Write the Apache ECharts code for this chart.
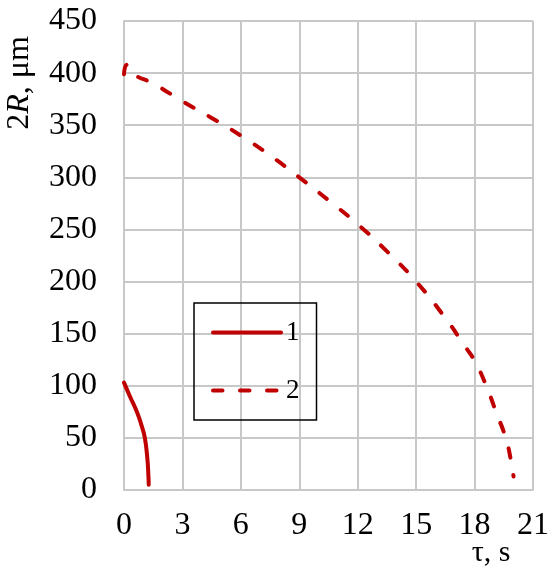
<!DOCTYPE html>
<html>
<head>
<meta charset="utf-8">
<script src="https://cdn.jsdelivr.net/npm/echarts@6/dist/echarts.min.js"></script>
<style>
  html, body { margin: 0; padding: 0; background: #fff; }
  #chart { width: 552px; height: 571px; }
</style>
</head>
<body>
<div id="chart"></div>
<script>
// curve 1 (solid) : [tau, 2R]
var curve1 = [[0, 103], [0.3, 90], [0.66, 75], [0.9, 62], [1.07, 50], [1.2, 30], [1.25, 15], [1.27, 5]];
// curve 2 (dashed)
var curve2 = [[0, 399], [0.15, 408], [0.5, 399], [1.5, 390], [3, 373], [4.5, 357], [6, 340], [7.5, 321],
  [9, 300], [10.5, 278], [12, 255], [13.5, 229], [15, 200], [16.5, 165], [17.5, 138], [18, 124],
  [18.6, 100], [19.1, 75], [19.6, 50], [19.85, 30], [20, 13]];
var seriesNames = ['1', '2'];

var chart = echarts.init(document.getElementById('chart'));
var font = 'Liberation Serif';
var gridColor = '#c8c8c8';

var option = {
  animation: false,
  backgroundColor: '#fff',
  grid: { left: 124, right: 15, top: 21, bottom: 81 },
  xAxis: {
    type: 'value', min: 0, max: 21, interval: 3,
    axisLine: { lineStyle: { color: gridColor, width: 2 } },
    axisTick: { show: false },
    splitLine: { lineStyle: { color: gridColor, width: 2 } },
    axisLabel: { color: '#000', fontFamily: font, fontSize: 32, margin: 20 }
  },
  yAxis: {
    type: 'value', min: 0, max: 450, interval: 50,
    axisLine: { show: true, lineStyle: { color: gridColor, width: 2 } },
    axisTick: { show: false },
    splitLine: { lineStyle: { color: gridColor, width: 2 } },
    axisLabel: { color: '#000', fontFamily: font, fontSize: 32, margin: 27 }
  },
  legend: {
    left: 194, top: 303, orient: 'vertical',
    padding: [16, 17, 16, 17],
    borderColor: '#000', borderWidth: 1.5,
    itemWidth: 68, itemHeight: 14, itemGap: 31,
    itemStyle: { opacity: 0 },
    lineStyle: { width: 4, cap: 'round' },
    textStyle: { fontFamily: font, fontSize: 27, color: '#000', lineHeight: 26 },
    data: seriesNames
  },
  graphic: [
    {
      type: 'text', x: 20, y: 83, rotation: Math.PI / 2,
      style: {
        text: '{n|2}{i|R}{n|, μm}',
        align: 'center', verticalAlign: 'middle',
        rich: {
          n: { fontFamily: font, fontSize: 32, fill: '#000' },
          i: { fontFamily: font, fontSize: 32, fontStyle: 'italic', fill: '#000' }
        }
      }
    },
    {
      type: 'text', x: 491, y: 553,
      style: {
        text: 'τ, s', font: '30px "Liberation Serif"', fill: '#000',
        align: 'center', verticalAlign: 'middle'
      }
    }
  ],
  series: [
    {
      name: seriesNames[0], type: 'line', data: curve1, smooth: true,
      showSymbol: false, symbol: 'none',
      lineStyle: { color: '#c00000', width: 4, cap: 'round' }, itemStyle: { color: '#c00000' }
    },
    {
      name: seriesNames[1], type: 'line', data: curve2, smooth: true,
      showSymbol: false, symbol: 'none',
      lineStyle: { color: '#c00000', width: 4, type: [9.5, 17.5], cap: 'round' }, itemStyle: { color: '#c00000' }
    }
  ]
};
chart.setOption(option);
</script>
</body>
</html>
